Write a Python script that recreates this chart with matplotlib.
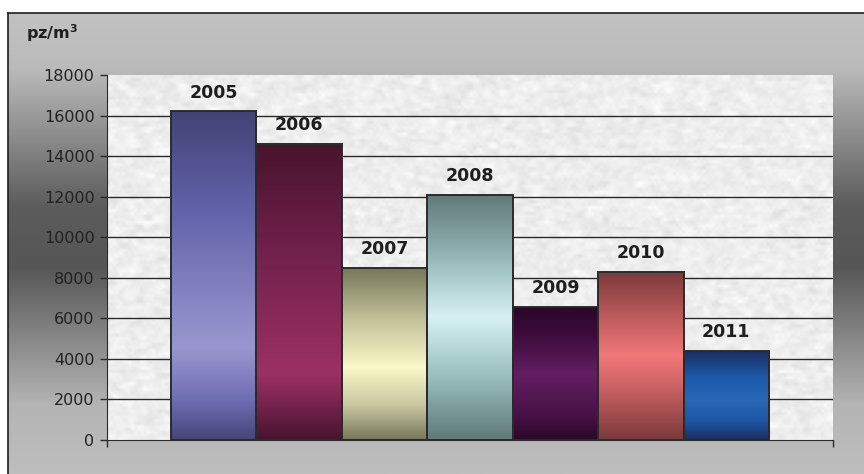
import numpy as np
import matplotlib.pyplot as plt
from matplotlib.colors import LinearSegmentedColormap
from matplotlib.patches import Rectangle

plt.rcParams['font.family'] = ['DejaVu Sans']

# data
years = ["2005", "2006", "2007", "2008", "2009", "2010", "2011"]
values = [16200, 14600, 8500, 12100, 6550, 8300, 4400]
yticks = [0, 2000, 4000, 6000, 8000, 10000, 12000, 14000, 16000, 18000]

# gradient stops for each bar, top -> bottom
bar_grads = [
    [(0.0, "#424375"), (0.3, "#6262aa"), (0.72, "#9a97cf"), (0.88, "#6f6db3"), (1.0, "#45467a")],
    [(0.0, "#48132d"), (0.45, "#7a2452"), (0.78, "#9c3064"), (0.9, "#6e2148"), (1.0, "#48142e")],
    [(0.0, "#76775a"), (0.3, "#c2c19a"), (0.58, "#faf7c8"), (0.8, "#c9c7a0"), (1.0, "#76775a")],
    [(0.0, "#5f7977"), (0.25, "#93b6b6"), (0.5, "#d6f1f4"), (0.75, "#98bdbd"), (1.0, "#5f7977")],
    [(0.0, "#2a0828"), (0.2, "#3c0b3a"), (0.5, "#621e62"), (0.8, "#4a1248"), (1.0, "#2a0828")],
    [(0.0, "#7a393b"), (0.3, "#c55e60"), (0.5, "#f07878"), (0.7, "#c86062"), (1.0, "#7a393b")],
    [(0.0, "#1a2d5e"), (0.3, "#1d59a9"), (0.55, "#2a67b5"), (0.8, "#1c55a3"), (1.0, "#1a2d5e")],
]

W, H = 864, 474
fig = plt.figure(figsize=(W / 100, H / 100), dpi=100)
fig.patch.set_facecolor("white")

# outer panel with vertical grey gradient
bg = fig.add_axes([8 / W, 0, 1 - 8 / W, 1 - 13 / H])
bg.set_axis_off()
bg_cmap = LinearSegmentedColormap.from_list(
    "bg", [(0.0, "#c2c2c2"), (0.12, "#bababa"), (0.42, "#5c5c5c"), (0.55, "#565656"),
           (0.85, "#b4b4b4"), (1.0, "#bebebe")])
bg.imshow(np.linspace(0, 1, 256).reshape(-1, 1), cmap=bg_cmap, aspect="auto",
          extent=[0, 1, 0, 1])
bg.set_xlim(0, 1)
bg.set_ylim(0, 1)
fig.lines.append(plt.Line2D([8 / W, 8 / W], [0, 1 - 13 / H], color="#202020",
                            lw=1.2, transform=fig.transFigure))
fig.lines.append(plt.Line2D([8 / W, 1], [1 - 13 / H, 1 - 13 / H], color="#202020",
                            lw=1.2, transform=fig.transFigure))

ax = fig.add_axes([107 / W, 1 - 440 / H, (833 - 107) / W, (440 - 75) / H])
n = len(years)
xlo, xhi = -0.5 - 0.75, n - 0.5 + 0.75
ax.set_xlim(xlo, xhi)
ax.set_ylim(0, 18000)

# granite-like texture for plot area
rng = np.random.default_rng(7)
tex = rng.normal(0, 1, (120, 240))
tex = (tex + np.roll(tex, 1, 0) + np.roll(tex, 1, 1) + np.roll(tex, -1, 1)) / 4
tex = 0.93 + 0.04 * tex
ax.imshow(np.clip(tex, 0, 1), cmap="gray", vmin=0, vmax=1, aspect="auto",
          extent=[xlo, xhi, 0, 18000], zorder=0, interpolation="bilinear")

for yv in yticks[1:-1]:
    ax.axhline(yv, color="#2a2a2a", lw=1.0, zorder=1)

bars = ax.bar(range(n), values, width=1.0, facecolor="none",
              edgecolor="#2b2b2b", linewidth=1.4, zorder=3)
grad = np.linspace(0, 1, 256).reshape(-1, 1)
for b, stops, yr, v in zip(bars, bar_grads, years, values):
    cmap = LinearSegmentedColormap.from_list("g" + yr, stops)
    x0 = b.get_x()
    im = ax.imshow(grad, cmap=cmap, aspect="auto", zorder=2,
                   extent=[x0, x0 + b.get_width(), 0, v], origin="upper")
    clip = Rectangle((x0, 0), b.get_width(), v, transform=ax.transData)
    im.set_clip_path(clip)
    ax.annotate(yr, (b.get_x() + b.get_width() / 2, v), xytext=(0, 7),
                textcoords="offset points", ha="center", va="bottom",
                fontsize=12.5, fontweight="bold", color="#1e1e1e")

ax.set_xlim(xlo, xhi)
ax.set_ylim(0, 18000)
ax.set_yticks(yticks)
ax.set_yticklabels([str(t) for t in yticks], fontsize=11.5, color="#222222")
ax.set_xticks([xlo, xhi])
ax.set_xticklabels([])
ax.tick_params(axis="both", direction="out", length=5, width=1, color="#2a2a2a")
ax.tick_params(axis="y", pad=4)
for s in ["top", "right"]:
    ax.spines[s].set_visible(False)
ax.spines["left"].set_color("#2a2a2a")
ax.spines["bottom"].set_color("#2a2a2a")

fig.text(26 / W, 1 - 39 / H, "pz/m$^\\mathbf{3}$", fontsize=11.5,
         fontweight="bold", color="#1e1e1e", ha="left", va="baseline")

fig.savefig("out.png", dpi=100)
